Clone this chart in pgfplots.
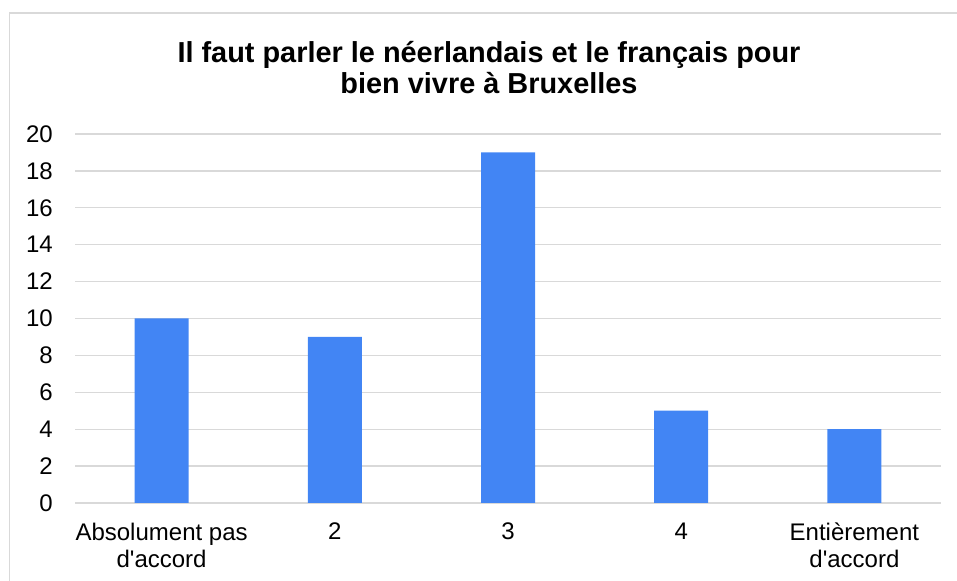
\documentclass[border=0pt]{standalone}
\usepackage{fontspec}
\setmainfont{Liberation Sans}
\usepackage{pgfplots}
\pgfplotsset{compat=1.18}
\definecolor{barblue}{HTML}{4285F4}
\definecolor{gridgray}{HTML}{D9D9D9}
\definecolor{framegray}{HTML}{D9D9D9}

\begin{document}
\begin{tikzpicture}
\useasboundingbox (0,0) rectangle (957bp,581bp);
\draw[framegray, line width=1.5bp] (9.5bp,-20bp) -- (9.5bp,568bp) -- (980bp,568bp);
\node[anchor=base, inner sep=0pt, font=\fontsize{29}{31}\selectfont\bfseries] at (489bp,518bp)
 {Il faut parler le néerlandais et le français pour};
\node[anchor=base, inner sep=0pt, font=\fontsize{29}{31}\selectfont\bfseries] at (489bp,487bp)
 {bien vivre à Bruxelles};
\begin{axis}[
 at={(75bp,78bp)}, anchor=south west,
 scale only axis, width=866bp, height=369bp,
 xmin=-0.5, xmax=4.5, ymin=0, ymax=20,
 ytick={0,2,...,20},
 xtick={0,1,2,3,4},
 xticklabels={{Absolument pas\\d\textquotesingle accord},2,3,4,{Entièrement\\d\textquotesingle accord}},
 axis line style={draw=none},
 major tick length=0pt,
 ymajorgrids=true,
 grid style={gridgray, line width=1.3bp},
 /pgf/number format/assume math mode=true,
 tick label style={font=\fontsize{24.1}{27.5}\selectfont, inner sep=0pt},
 yticklabel style={anchor=east, xshift=-22bp},
 xticklabel style={anchor=north, align=center, yshift=-19.7bp},
]
\addplot[ybar, bar width=54bp, fill=barblue, draw=none] coordinates {
 (0,10) (1,9) (2,19) (3,5) (4,4)};
\end{axis}
\end{tikzpicture}
\end{document}
